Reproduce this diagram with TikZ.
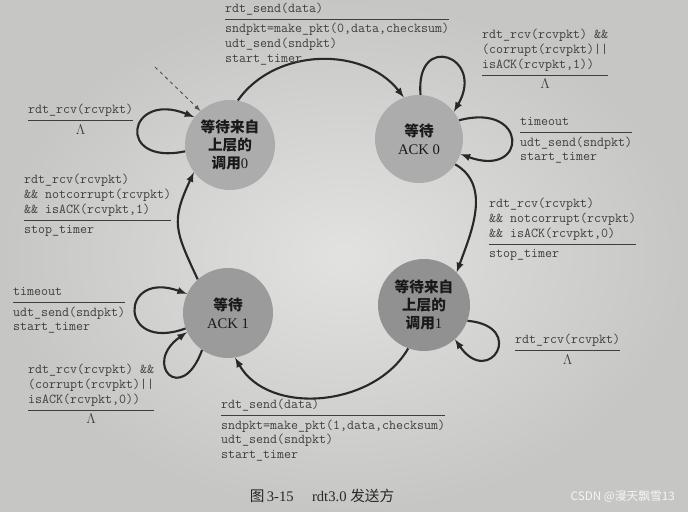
\documentclass[tikz,border=0pt]{standalone}
\usepackage{fontspec}
\setmainfont{Liberation Serif}
\newfontfamily\cjk{Noto Sans CJK SC}
\usetikzlibrary{positioning,arrows,calc}
\definecolor{paper}{RGB}{226,226,224}
\definecolor{paperdark}{RGB}{198,198,196}
\definecolor{ink}{RGB}{40,40,40}
\definecolor{labelink}{RGB}{62,62,62}
\definecolor{stategray}{RGB}{172,172,172}
\definecolor{statedark}{RGB}{145,145,145}
\setlength{\arrayrulewidth}{0.9pt}
\newcommand{\zh}[1]{{\cjk\bfseries #1}}
\newcommand{\trans}[2]{\begin{tabular}{@{}l@{}}#1\\[2pt]\hline\noalign{\vskip 2pt}#2\end{tabular}}
\newcommand{\nop}{\multicolumn{1}{c}{$\Lambda$}}

\begin{document}
\begin{tikzpicture}[
            x=0.03cm, y=0.03cm,
            state/.style={circle, fill=stategray, minimum size=2.7cm, inner sep=0pt, align=center, text=black!90, font=\fontsize{12.5}{15.5}\selectfont},
            guard/.style={anchor=north west, inner sep=0pt, text=labelink, font=\ttfamily\fontsize{11.6}{12.6}\selectfont},
            arrow/.style={-latex, line width=1.8pt, color=ink},
            initarrow/.style={-latex, dashed, line width=0.8pt, color=ink!80}
        ]
            \useasboundingbox (0,0) rectangle (688,-512);
            \shade[inner color=paper, outer color=paperdark] (0,0) rectangle (688,-512);

            % States
            \node[state] (wait0) at (230,-145) {\zh{等待来自}\\\zh{上层的}\\\zh{调用}0};
            \node[state, minimum size=2.64cm] (ack0) at (419,-139) {\zh{等待}\\ACK 0};
            \node[state, fill=statedark, minimum size=2.76cm] (wait1) at (424,-305) {\zh{等待来自}\\\zh{上层的}\\\zh{调用}1};
            \node[state, fill=stategray!90!black] (ack1) at (228,-313) {\zh{等待}\\ACK 1};

            % Transitions
            \coordinate (start) at (155,-67);
            \draw[initarrow] (start) -- (wait0.131);
            \draw[arrow] (wait0.80) to[out=55, in=128] (ack0.110);
            \draw[arrow] (ack0.88) .. controls +(95:64) and +(60:64) .. (ack0.38);
            \draw[arrow] (ack0.25) .. controls +(15:72) and +(-20:72) .. (ack0.-20);
            \draw[arrow] (ack0.-35) to[out=-30, in=70] (wait1.45);
            \draw[arrow] (wait1.-20) .. controls +(-5:60) and +(-55:60) .. (wait1.-48);
            \draw[arrow] (wait1.-110) to[out=-120, in=-60] (ack1.-81);
            \draw[arrow] (ack1.200) .. controls +(200:72) and +(160:72) .. (ack1.155);
            \draw[arrow] (ack1.235) .. controls +(250:60) and +(215:55) .. (ack1.205);
            \draw[arrow] (ack1.132) to[out=115, in=245, looseness=1.3] (wait0.217);
            \draw[arrow] (wait0.188) .. controls +(192:72) and +(158:72) .. (wait0.142);

            % Labels
            \node[guard] (sendzero) at (225,-1.5) {\trans{rdt\_send(data)}{sndpkt=make\_pkt(0,data,checksum)\\udt\_send(sndpkt)\\start\_timer}};
            \node[guard] (badackone) at (482,-28) {\trans{rdt\_rcv(rcvpkt) \&\&\\(corrupt(rcvpkt)||\\isACK(rcvpkt,1))}{\nop}};
            \node[guard] (timeoutzero) at (520,-115) {\trans{timeout}{udt\_send(sndpkt)\\start\_timer}};
            \node[guard] (idlezero) at (28,-103) {\trans{rdt\_rcv(rcvpkt)}{\nop}};
            \node[guard] (gotackone) at (24,-173) {\trans{rdt\_rcv(rcvpkt)\\\&\& notcorrupt(rcvpkt)\\\&\& isACK(rcvpkt,1)}{stop\_timer}};
            \node[guard] (gotackzero) at (489,-197) {\trans{rdt\_rcv(rcvpkt)\\\&\& notcorrupt(rcvpkt)\\\&\& isACK(rcvpkt,0)}{stop\_timer}};
            \node[guard] (idleone) at (515,-333) {\trans{rdt\_rcv(rcvpkt)}{\nop}};
            \node[guard] (timeoutone) at (13,-285) {\trans{timeout}{udt\_send(sndpkt)\\start\_timer}};
            \node[guard] (badackzero) at (28,-363) {\trans{rdt\_rcv(rcvpkt) \&\&\\(corrupt(rcvpkt)||\\isACK(rcvpkt,0))}{\nop}};
            \node[guard] (sendone) at (221,-398) {\trans{rdt\_send(data)}{sndpkt=make\_pkt(1,data,checksum)\\udt\_send(sndpkt)\\start\_timer}};

            % Caption
            \node[text=ink, font=\fontsize{12.5}{14}\selectfont] (caption) at (322,-496) {{\cjk 图}\,3-15\quad\ rdt3.0 {\cjk 发送方}};
            \node[anchor=east, text=white!92!gray, font=\cjk\fontsize{10}{12}\selectfont] (mark) at (679,-497) {CSDN @漫天飘雪13};
        \end{tikzpicture}
\end{document}
